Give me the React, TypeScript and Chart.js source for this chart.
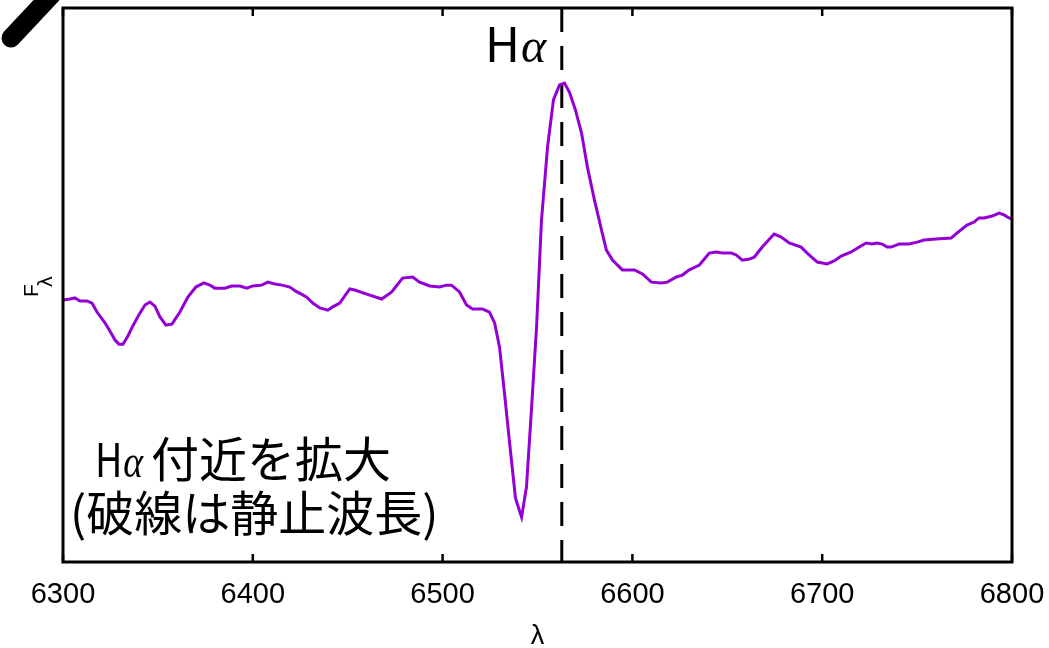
import { useEffect, useRef } from "react";
import { Chart, registerables } from "chart.js";

Chart.register(...registerables);

// Wavelength (Å)
const wavelengths: number[] = [
  6300.0, 6303.7, 6306.3, 6308.9, 6312.6, 6315.3, 6317.9, 6322.1, 6324.7, 6327.4,
  6329.5, 6331.6, 6334.2, 6336.8, 6340.5, 6343.2, 6345.8, 6348.4, 6351.1, 6354.2,
  6357.4, 6361.6, 6365.8, 6370.0, 6374.2, 6377.4, 6380.0, 6385.3, 6388.9, 6393.2,
  6396.8, 6400.0, 6404.7, 6407.9, 6411.6, 6415.3, 6419.5, 6422.6, 6426.3, 6428.4,
  6431.6, 6435.3, 6439.5, 6442.1, 6445.8, 6451.1, 6453.7, 6460.0, 6467.9, 6473.2,
  6478.9, 6484.2, 6487.9, 6493.2, 6498.4, 6502.1, 6504.7, 6508.9, 6512.6, 6515.8,
  6521.1, 6524.7, 6527.4, 6530.0, 6532.6, 6535.3, 6538.4, 6541.6, 6544.2, 6546.8,
  6549.5, 6552.1, 6555.3, 6558.4, 6561.6, 6564.2, 6566.8, 6570.0, 6573.2, 6576.3,
  6580.0, 6583.7, 6586.3, 6589.5, 6594.7, 6601.1, 6605.3, 6610.0, 6615.3, 6618.4,
  6623.2, 6626.3, 6630.0, 6635.3, 6640.5, 6644.2, 6647.4, 6652.1, 6654.7, 6657.9,
  6661.6, 6664.2, 6668.4, 6674.7, 6678.4, 6682.6, 6688.9, 6692.1, 6697.4, 6702.6,
  6706.3, 6710.0, 6715.3, 6719.5, 6723.2, 6726.3, 6728.9, 6731.6, 6734.2, 6736.3,
  6740.5, 6745.8, 6750.0, 6753.7, 6760.0, 6767.9, 6771.1, 6776.3, 6780.0, 6782.6,
  6785.3, 6789.5, 6793.2, 6795.8, 6798.4, 6800.0,
];

// Flux F_lambda (arbitrary units)
const flux: number[] = [
  0.963, 0.967, 0.971, 0.960, 0.960, 0.952, 0.919, 0.879, 0.849, 0.816,
  0.801, 0.801, 0.831, 0.868, 0.915, 0.945, 0.956, 0.941, 0.901, 0.871,
  0.875, 0.919, 0.974, 1.011, 1.026, 1.018, 1.007, 1.007, 1.015, 1.015,
  1.007, 1.015, 1.018, 1.029, 1.022, 1.018, 1.011, 0.996, 0.982, 0.974,
  0.952, 0.934, 0.926, 0.938, 0.952, 1.004, 1.000, 0.985, 0.967, 0.993,
  1.044, 1.048, 1.029, 1.015, 1.011, 1.018, 1.018, 0.993, 0.945, 0.930,
  0.930, 0.919, 0.879, 0.790, 0.621, 0.438, 0.235, 0.165, 0.276, 0.559,
  0.864, 1.257, 1.526, 1.699, 1.754, 1.761, 1.728, 1.662, 1.577, 1.452,
  1.331, 1.221, 1.147, 1.110, 1.074, 1.074, 1.059, 1.029, 1.026, 1.029,
  1.048, 1.055, 1.074, 1.092, 1.136, 1.140, 1.136, 1.136, 1.129, 1.110,
  1.114, 1.121, 1.158, 1.206, 1.195, 1.173, 1.158, 1.136, 1.103, 1.096,
  1.107, 1.125, 1.140, 1.158, 1.173, 1.169, 1.173, 1.169, 1.158, 1.158,
  1.169, 1.169, 1.176, 1.184, 1.188, 1.191, 1.210, 1.239, 1.250, 1.265,
  1.265, 1.272, 1.283, 1.276, 1.265, 1.262,
];

const xTicks: number[] = [6300, 6400, 6500, 6600, 6700, 6800];
const restWavelength = 6562.8;
const xLabel = "λ";
const noteLine1 = "付近を拡大";
const noteLine2 = "(破線は静止波長)";

const CJK = '"Noto Sans CJK JP", "Noto Sans", sans-serif';
const SANS = '"Liberation Sans", Arial, sans-serif';

export default function App() {
  const canvasRef = useRef<HTMLCanvasElement | null>(null);

  useEffect(() => {
    const canvas = canvasRef.current;
    if (!canvas) return;

    const decorPlugin = {
      id: "decor",
      beforeDatasetsDraw(chart: any) {
        const { ctx, chartArea, scales } = chart;
        const x = scales.x.getPixelForValue(restWavelength);
        ctx.save();
        ctx.strokeStyle = "#000";
        ctx.lineWidth = 3;
        ctx.setLineDash([24, 14]);
        ctx.beginPath();
        ctx.moveTo(x, chartArea.top);
        ctx.lineTo(x, chartArea.bottom);
        ctx.stroke();
        ctx.restore();
      },
      afterDraw(chart: any) {
        const { ctx, chartArea, scales } = chart;
        const { left, right, top, bottom } = chartArea;
        ctx.save();
        // frame
        ctx.strokeStyle = "#000";
        ctx.lineWidth = 3;
        ctx.strokeRect(left, top, right - left, bottom - top);
        // inward ticks + tick labels
        ctx.lineWidth = 2.5;
        ctx.beginPath();
        for (const t of xTicks) {
          const px = scales.x.getPixelForValue(t);
          ctx.moveTo(px, bottom);
          ctx.lineTo(px, bottom - 8);
          ctx.moveTo(px, top);
          ctx.lineTo(px, top + 8);
        }
        ctx.stroke();

        ctx.fillStyle = "#000";
        ctx.textBaseline = "alphabetic";
        ctx.textAlign = "center";
        ctx.font = `29px ${SANS}`;
        for (const t of xTicks) {
          const px = scales.x.getPixelForValue(t);
          ctx.fillText(String(t), px, 603);
        }
        ctx.font = `27px ${SANS}`;
        ctx.fillText(xLabel, (left + right) / 2, 644);

        // decorative black stroke at top-left
        ctx.lineCap = "round";
        ctx.lineWidth = 19;
        ctx.beginPath();
        ctx.moveTo(11, 38);
        ctx.lineTo(56, -10);
        ctx.stroke();

        ctx.textAlign = "left";

        // H alpha label near top
        let x0 = 485;
        ctx.font = `48px ${CJK}`;
        ctx.fillText("H", x0, 62);
        x0 += ctx.measureText("H").width;
        ctx.font = 'italic 48px "Liberation Serif", serif';
        ctx.fillText("α", x0 + 1, 62);

        // note text
        ctx.save();
        ctx.translate(95, 477);
        ctx.scale(0.82, 1);
        ctx.font = `46px ${CJK}`;
        ctx.fillText("H", 0, 0);
        const wH = ctx.measureText("H").width;
        ctx.font = 'italic 46px "Liberation Serif", serif';
        ctx.fillText("α", wH + 1, 0);
        ctx.restore();
        ctx.font = `48px ${CJK}`;
        ctx.fillText(noteLine1, 151, 477);
        ctx.fillText(noteLine2, 70, 531);

        // y-axis title F_lambda
        ctx.translate(38, 297);
        ctx.rotate(-Math.PI / 2);
        ctx.font = `21px ${SANS}`;
        ctx.fillText("F", 0, 0);
        const wF = ctx.measureText("F").width;
        ctx.font = '19px "DejaVu Sans", sans-serif';
        ctx.fillText("λ", wF - 3, 14);
        ctx.restore();
      },
    };

    const points = wavelengths.map((w, i) => ({ x: w, y: flux[i] }));

    const chart = new Chart(canvas, {
      type: "line",
      data: {
        datasets: [
          {
            data: points,
            borderColor: "#9400D3",
            borderWidth: 3,
            pointRadius: 0,
            tension: 0,
            fill: false,
          },
        ],
      },
      options: {
        animation: false,
        responsive: false,
        maintainAspectRatio: false,
        layout: { padding: { left: 63, right: 37, top: 8, bottom: 86 } },
        plugins: {
          legend: { display: false },
          tooltip: { enabled: false },
        },
        scales: {
          x: {
            type: "linear",
            display: false,
            min: 6300,
            max: 6800,
          },
          y: {
            display: false,
            min: 0,
            max: 2.037,
          },
        },
      },
      plugins: [decorPlugin],
    });

    return () => chart.destroy();
  }, []);

  return (
    <div style={{ position: "fixed", left: 0, top: 0, width: 1049, height: 648, background: "#fff" }}>
      <canvas ref={canvasRef} width={1049} height={648} style={{ display: "block" }} />
    </div>
  );
}
